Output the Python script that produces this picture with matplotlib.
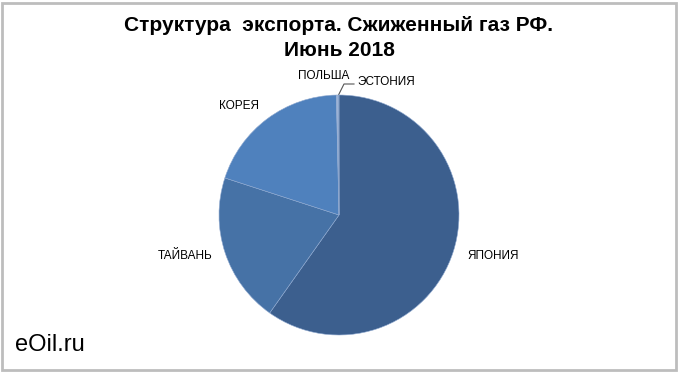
import matplotlib.pyplot as plt
from matplotlib.patches import Rectangle

# ── Data ──
countries = ['ЯПОНИЯ', 'ТАЙВАНЬ', 'КОРЕЯ', 'ПОЛЬША', 'ЭСТОНИЯ']
shares = [59.8, 20.2, 19.65, 0.3, 0.05]
colors = ['#3C5F8E', '#4672A6', '#4F81BD', '#9DB3D6', '#3C5F8E']

plt.rcParams['font.family'] = ['Liberation Sans', 'DejaVu Sans']

fig = plt.figure(figsize=(6.8, 3.74), dpi=100)
ax = fig.add_axes([0, 0, 1, 1])
ax.set_xlim(0, 680)
ax.set_ylim(374, 0)
ax.axis('off')

# outer frame
fig.patches.append(Rectangle((2 / 680, 4 / 374), 674 / 680, 367 / 374,
                             transform=fig.transFigure, fill=False,
                             edgecolor='#BDBDBD', linewidth=2))

# ── Pie ──
cx, cy, r = 339, 215, 120
pax = fig.add_axes([(cx - r) / 680, 1 - (cy + r) / 374, 2 * r / 680, 2 * r / 374])
wedges, _ = pax.pie(shares, colors=colors, startangle=90, counterclock=False,
                    wedgeprops=dict(edgecolor='#8FA9D0', linewidth=0.4))
pax.set_aspect('auto')
pax.set_xlim(-1, 1)
pax.set_ylim(-1, 1)

# ── Labels ──
lbl = dict(fontsize=8.5, color='black')
ax.text(467, 256, countries[0], ha='left', va='center', **lbl)
ax.text(213, 256, countries[1], ha='right', va='center', **lbl)
ax.text(259, 106, countries[2], ha='right', va='center', **lbl)
ax.text(324, 76, countries[3], ha='center', va='center', **lbl)
ax.text(357, 82, countries[4], ha='left', va='center', **lbl)
ax.plot([338, 344, 354], [96, 84, 84], color='#555555', linewidth=0.8)

# ── Title & watermark ──
ax.text(339, 38, 'Структура  экспорта. Сжиженный газ РФ.\nИюнь 2018',
        ha='center', va='center', fontsize=15, fontweight='bold',
        linespacing=1.45)
ax.text(15, 345, 'eOil.ru', ha='left', va='center', fontsize=17)

fig.savefig('out.png', dpi=100)
